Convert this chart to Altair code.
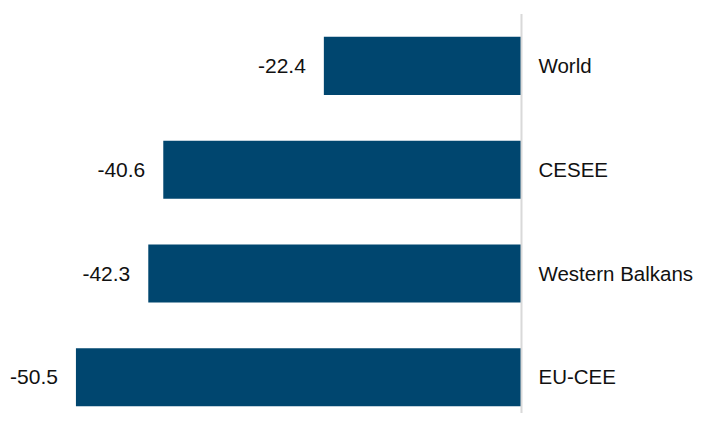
import altair as alt
import pandas as pd

categories = ["World", "CESEE", "Western Balkans", "EU-CEE"]
values = [-22.4, -40.6, -42.3, -50.5]

df = pd.DataFrame({"region": categories, "value": values})
df["label"] = df["value"].map(lambda v: f"{v:.1f}")

x_scale = alt.Scale(domain=[-58.2, 19.78], nice=False, zero=False)
y_scale = alt.Scale(domain=categories, range=[0, 415.2],
                    paddingInner=0.44, paddingOuter=0.22)

FONT = "Liberation Sans"

base = alt.Chart(df).encode(
    y=alt.Y("region:N", sort=categories, scale=y_scale, axis=None)
)

bars = base.mark_bar(color="#00466f").encode(
    x=alt.X("value:Q", scale=x_scale, axis=None),
    x2=alt.datum(0),
)

value_text = base.mark_text(
    align="right", baseline="middle", dx=-18, dy=1, fontSize=21,
    font=FONT, color="#111111"
).encode(
    x=alt.X("value:Q", scale=x_scale, axis=None),
    text="label:N",
)

cat_text = base.mark_text(
    align="left", baseline="middle", dx=17, dy=1, fontSize=20.5,
    font=FONT, color="#111111"
).encode(
    x=alt.datum(0, scale=x_scale),
    text="region:N",
)

rule = alt.Chart(pd.DataFrame({"z": [0]})).mark_rule(
    color="#d9d9d9", strokeWidth=2
).encode(
    x=alt.X("z:Q", scale=x_scale, axis=None),
)

chart = alt.layer(bars, rule, value_text, cat_text).properties(
    width=688, height=399,
    padding={"left": 0, "top": 6, "right": 0, "bottom": 0},
    autosize="none",
).configure_view(stroke=None)

chart.save("out.html", embed_options={"renderer": "svg", "actions": False})
